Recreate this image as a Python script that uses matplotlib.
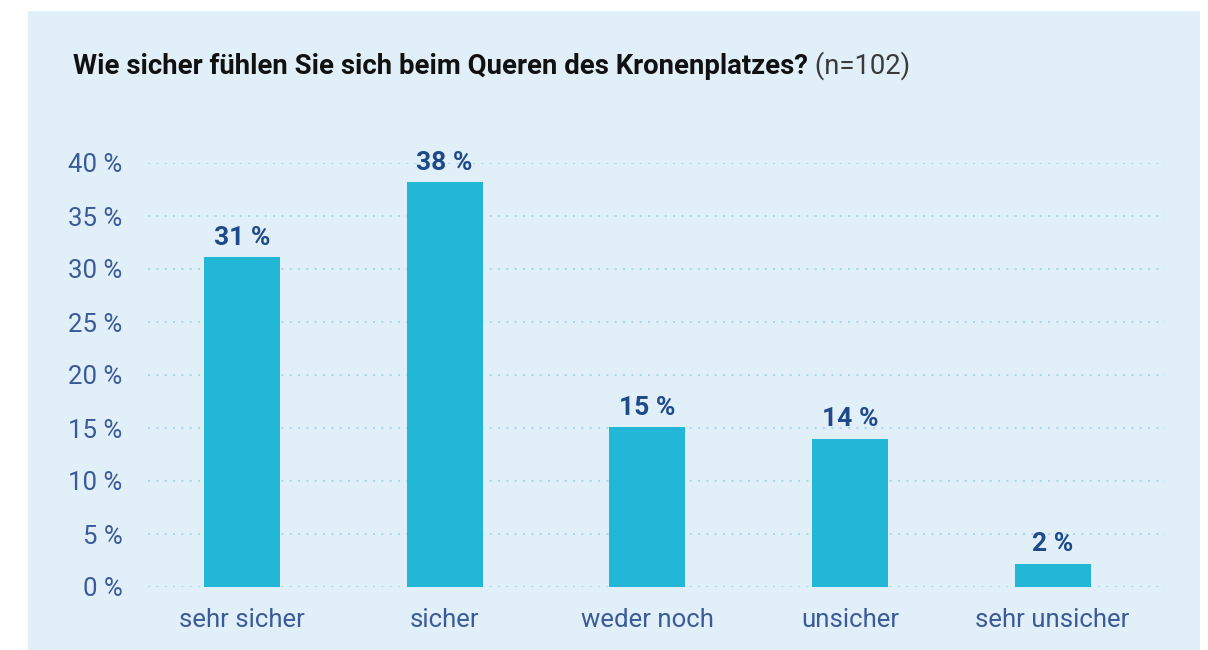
import matplotlib.pyplot as plt
from matplotlib.patches import Rectangle

# Daten
categories = ["sehr sicher", "sicher", "weder noch", "unsicher", "sehr unsicher"]
values = [31.1, 38.2, 15.1, 14.0, 2.2]
labels = ["31 %", "38 %", "15 %", "14 %", "2 %"]
yticks = [0, 5, 10, 15, 20, 25, 30, 35, 40]

title_bold = "Wie sicher fühlen Sie sich beim Queren des Kronenplatzes?"
title_note = " (n=102)"

BG = "#E1F0F8"
BAR = "#23B7D7"
DARK = "#1F4A8A"
TICK = "#3A5A9A"
GRID = "#A6DAEA"

plt.rcParams["font.family"] = ["Roboto", "DejaVu Sans"]

fig = plt.figure(figsize=(12.08, 6.5), dpi=100)
fig.patch.set_facecolor("white")
fig.patches.append(Rectangle((28 / 1208, 0), 1172 / 1208, 1 - 11 / 650,
                             transform=fig.transFigure, facecolor=BG,
                             edgecolor="none", zorder=-10))

ax = fig.add_axes([148 / 1208, 1 - 587 / 650, 1017 / 1208, 424 / 650])
ax.set_facecolor("none")
ax.set_zorder(5)

x = range(len(categories))
ax.bar(x, values, width=0.375, color=BAR, zorder=3)

for xi, v, lab in zip(x, values, labels):
    ax.text(xi, v + 1.15, lab, ha="center", va="baseline", fontsize=19,
            fontweight="bold", color=DARK, clip_on=False)

ax.set_xlim(-0.464, 4.555)
ax.set_ylim(0, 40)
ax.set_yticks(yticks)
ax.set_yticklabels([f"{t} %" for t in yticks])
ax.set_xticks(list(x))
ax.set_xticklabels(categories)

ax.tick_params(axis="y", length=0, pad=18.5, labelsize=18.5, labelcolor=TICK)
ax.tick_params(axis="x", length=0, pad=15, labelsize=18.5, labelcolor=TICK)

for s in ax.spines.values():
    s.set_visible(False)

ax.yaxis.grid(True, color=GRID, linewidth=1.5, linestyle=(0, (1, 3)), zorder=1)
ax.xaxis.grid(False)
ax.set_axisbelow(True)

# Titel: fetter Teil + normaler Zusatz
t1 = fig.text(73 / 1208, 1 - 66 / 650, title_bold, fontsize=19.8,
              fontweight="bold", color="#111111", va="center", ha="left")
fig.canvas.draw()
bb = t1.get_window_extent()
fig.text(bb.x1 / 1208, 1 - 66 / 650, title_note, fontsize=19.8,
         color="#3A3A3A", va="center", ha="left")

fig.savefig("out.png", dpi=100, facecolor=fig.get_facecolor())
